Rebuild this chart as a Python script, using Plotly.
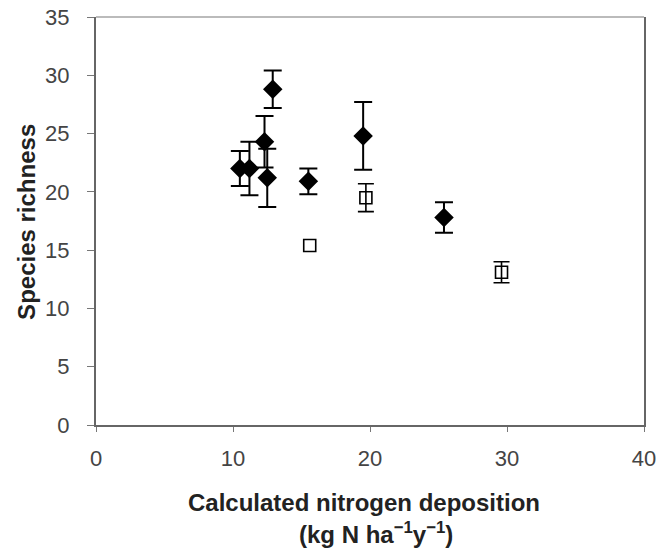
import plotly.graph_objects as go

# Filled diamonds series
dia_x = [10.5, 11.2, 12.3, 12.5, 12.9, 15.5, 19.5, 25.4]
dia_y = [22.0, 22.0, 24.3, 21.2, 28.8, 20.9, 24.8, 17.8]
dia_err = [1.5, 2.3, 2.2, 2.5, 1.6, 1.1, 2.9, 1.3]

# Open squares series (None = no visible error bar)
sq_x = [15.6, 19.7, 29.6]
sq_y = [15.4, 19.5, 13.1]
sq_err = [None, 1.2, 0.9]

x_ticks = [0, 10, 20, 30, 40]
y_ticks = [0, 5, 10, 15, 20, 25, 30, 35]

x_title_1 = "<b>Calculated nitrogen deposition</b>"
x_title_2 = "<b>(kg N ha<sup>−1</sup>y<sup>−1</sup>)</b>"
y_title = "<b>Species richness</b>"

sq_marker = dict(symbol="square-open", size=12, color="black", line=dict(width=1.6, color="black"))

fig = go.Figure()
idx_e = [i for i, e in enumerate(sq_err) if e is not None]
idx_n = [i for i, e in enumerate(sq_err) if e is None]
fig.add_trace(go.Scatter(
    x=[sq_x[i] for i in idx_e], y=[sq_y[i] for i in idx_e], mode="markers",
    marker=sq_marker,
    error_y=dict(type="data", array=[sq_err[i] for i in idx_e], visible=True,
                 color="black", thickness=1.6, width=8),
    showlegend=False,
))
fig.add_trace(go.Scatter(
    x=[sq_x[i] for i in idx_n], y=[sq_y[i] for i in idx_n], mode="markers",
    marker=sq_marker, showlegend=False,
))
fig.add_trace(go.Scatter(
    x=dia_x, y=dia_y, mode="markers",
    marker=dict(symbol="diamond", size=15, color="black"),
    error_y=dict(type="data", array=dia_err, visible=True, color="black", thickness=2, width=9),
    showlegend=False,
))

FONT = "Liberation Sans, Arial, sans-serif"
tick_font = dict(family=FONT, size=22, color="#444")
title_font = dict(family=FONT, size=24, color="#222")

fig.update_layout(
    width=658, height=553,
    margin=dict(l=96, r=14, t=17, b=128),
    paper_bgcolor="white", plot_bgcolor="white",
    xaxis=dict(
        range=[0, 40], tickvals=x_ticks, ticks="outside", ticklen=5, tickcolor="#777",
        showline=True, linecolor="#666", linewidth=2, showgrid=False, zeroline=False,
        tickfont=tick_font, automargin=False, ticklabeloverflow="allow",
        ticklabelstandoff=8,
    ),
    yaxis=dict(
        range=[0, 35], tickvals=y_ticks, ticks="outside", ticklen=7, tickcolor="#777",
        showline=True, linecolor="#666", linewidth=2, mirror=True, showgrid=False, zeroline=False,
        tickfont=tick_font, automargin=False, ticklabeloverflow="allow",
        ticklabelstandoff=13,
    ),
    shapes=[dict(type="line", xref="paper", yref="paper", x0=0, x1=1, y0=1, y1=1,
                 line=dict(color="#bbb", width=2))],
    annotations=[
        dict(text=x_title_1, xref="paper", yref="paper", x=0.489, y=-0.191,
             xanchor="center", yanchor="middle", showarrow=False, font=title_font),
        dict(text=x_title_2, xref="paper", yref="paper", x=0.511, y=-0.265,
             xanchor="center", yanchor="middle", showarrow=False, font=title_font),
        dict(text=y_title, xref="paper", yref="paper", x=-0.128, y=0.4975, textangle=-90,
             xanchor="center", yanchor="middle", showarrow=False, font=title_font),
    ],
)

fig.write_html("out.html", config={"displayModeBar": False},
               post_script="document.body.style.margin='0';document.body.style.overflow='hidden';")
